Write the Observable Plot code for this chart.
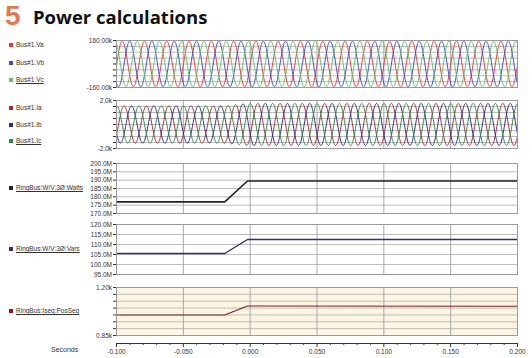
<!DOCTYPE html>
<html><head><meta charset="utf-8">
<script src="https://cdn.jsdelivr.net/npm/d3@7"></script>
<script src="https://cdn.jsdelivr.net/npm/@observablehq/plot@0.6"></script>
<style>
body{margin:0;background:#fff;}
#root{position:relative;width:532px;height:358px;overflow:hidden;font-family:"Liberation Sans",Arial,sans-serif;}
.num{position:absolute;left:5px;top:0px;font-family:"Liberation Sans",sans-serif;font-weight:700;font-size:28px;color:#e57a50;}
.ttl{position:absolute;left:33px;top:4px;font-family:"Open Sans",sans-serif;font-weight:700;font-size:18.5px;line-height:25px;color:#111;white-space:nowrap;}
.leg{position:absolute;left:9px;font-size:6.5px;color:#333;white-space:nowrap;line-height:8px;}
.leg i{display:inline-block;width:4px;height:4px;margin-right:3px;vertical-align:0px;}
.leg.u span{text-decoration:underline;}
.sec{position:absolute;left:51px;top:346px;font-size:7px;color:#333;}
svg{position:absolute;left:0;overflow:visible;}
</style></head>
<body><div id="root">
<div class="num">5</div><div class="ttl">Power calculations</div>
<div class="sec">Seconds</div>
</div>
<script>
// ---------- data ----------
const xDomain = [-0.1, 0.2];
const xMajorTicks = [-0.1, -0.05, 0, 0.05, 0.1, 0.15, 0.2];
const xMinorTicks = [-0.09,-0.08,-0.07,-0.06,-0.04,-0.03,-0.02,-0.01,0.01,0.02,0.03,0.04,0.06,0.07,0.08,0.09,0.11,0.12,0.13,0.14,0.16,0.17,0.18,0.19];

const voltageNames = ["Bus#1.Va", "Bus#1.Vb", "Bus#1.Vc"];
const voltageColors = ["#e03a3a", "#3a4ec4", "#66c066"];
const currentNames = ["Bus#1.Ia", "Bus#1.Ib", "Bus#1.Ic"];
const currentColors = ["#a02c3c", "#2c2c86", "#2f8a3f"];
const phaseShiftDeg = [0, -120, 120];
const frequencyHz = 60;
const voltageFirstPeak = -0.0957;     // time of first Va peak
const voltagePeakK = 155;             // kV
const currentLagDeg = 30;

// step event (times in seconds)
const stepTimes = [-0.1, -0.019, -0.002, 0.2];
const currentPeakK = [1.55, 1.55, 1.75, 1.75];
const wattsM = [177, 177, 189.5, 189.5];
const varsM = [105.5, 105.5, 112.5, 112.5];
const iseqK = [1.0, 1.0, 1.065, 1.063];

const voltTicks = [-160,-120,-80,-40,0,40,80,120,160];
const currTicks = [-2,-1.5,-1,-0.5,0,0.5,1,1.5,2];
const wattTicks = [170,175,180,185,190,195,200];
const varTicks = [95,100,105,110,115,120];
const iseqTicks = [0.85,0.9,0.95,1.0,1.05,1.1,1.15,1.2];

const legendNames = ["RingBus:W/V:3Ø:Watts", "RingBus:W/V:3Ø:Vars", "RingBus:Iseq:PosSeq"];
const legendColors = ["#222222", "#2d2d7a", "#7a1f2e"];

// ---------- build sampled waveforms ----------
const sampleStep = 0.0002;
const times = d3.range(xDomain[0], xDomain[1] + 1e-9, sampleStep);
const currentEnvelope = d3.scaleLinear(stepTimes, currentPeakK).clamp(true);
const voltageRows = [], currentRows = [];
voltageNames.forEach((name, i) => {
  for (const t of times) {
    const ang = 2*Math.PI*frequencyHz*(t - voltageFirstPeak) + phaseShiftDeg[i]*Math.PI/180;
    voltageRows.push({t, v: voltagePeakK*Math.cos(ang), phase: name});
  }
});
currentNames.forEach((name, i) => {
  for (const t of times) {
    const ang = 2*Math.PI*frequencyHz*(t - voltageFirstPeak) + (phaseShiftDeg[i]-currentLagDeg)*Math.PI/180;
    currentRows.push({t, v: currentEnvelope(t)*Math.cos(ang), phase: name});
  }
});
const stepRows = (vals) => stepTimes.map((t, i) => ({t, v: vals[i]}));

// ---------- panels ----------
const root = document.getElementById("root");
function panel({top, bottom, yDomain, ticks, fmt, bg = "#ffffff", marks, xAxis = false}) {
  const mt = 6, mb = xAxis ? 358 - bottom : 6;
  const extra = [];
  if (xAxis) {
    extra.push(
      Plot.ruleY([yDomain[0]], {dy: 8, stroke: "#333", strokeWidth: 1}),
      Plot.axisX(xMinorTicks, {tickFormat: () => "", tickSize: 2, dy: 8, color: "#444", label: null}),
      Plot.axisX(xMajorTicks, {tickFormat: d => d.toFixed(3), tickSize: 4, tickPadding: 2, dy: 8, color: "#333", fontSize: 6.5, label: null})
    );
  }
  const svg = Plot.plot({
    width: 532, height: mt + (bottom - top) + mb,
    marginLeft: 116, marginRight: 15, marginTop: mt, marginBottom: mb,
    x: {domain: xDomain, axis: null},
    y: {domain: yDomain, axis: null},
    style: {background: "transparent", fontFamily: "Liberation Sans, Arial, sans-serif", fontSize: "6.5px", overflow: "visible"},
    marks: [
      Plot.frame({fill: bg, stroke: null}),
      Plot.gridY(ticks, {stroke: "#bdbdbd", strokeOpacity: 1}),
      Plot.gridX(xMajorTicks.slice(1, -1), {stroke: "#a8a8a8", strokeOpacity: 1}),
      Plot.axisY(ticks, {tickFormat: fmt, tickSize: 3, tickPadding: 1.5, color: "#333", fontSize: 6.5, label: null}),
      ...marks,
      Plot.frame({stroke: "#9a9a9a"}),
      ...extra
    ]
  });
  svg.style.top = (top - mt) + "px";
  root.appendChild(svg);
}

panel({top: 40, bottom: 87, yDomain: [-160, 160], ticks: voltTicks,
  fmt: d => Math.abs(d) === 160 ? d.toFixed(2) + "k" : "",
  marks: [Plot.line(voltageRows, {x: "t", y: "v", z: "phase", stroke: d => voltageColors[voltageNames.indexOf(d.phase)], strokeWidth: 1})]});

panel({top: 100, bottom: 148, yDomain: [-2, 2], ticks: currTicks,
  fmt: d => Math.abs(d) === 2 ? d.toFixed(1) + "k" : "",
  marks: [Plot.line(currentRows, {x: "t", y: "v", z: "phase", stroke: d => currentColors[currentNames.indexOf(d.phase)], strokeWidth: 1})]});

panel({top: 163, bottom: 213, yDomain: [170, 200], ticks: wattTicks,
  fmt: d => d.toFixed(1) + "M",
  marks: [Plot.line(stepRows(wattsM), {x: "t", y: "v", stroke: legendColors[0], strokeWidth: 1.6})]});

panel({top: 224, bottom: 274, yDomain: [95, 120], ticks: varTicks,
  fmt: d => d.toFixed(1) + "M",
  marks: [Plot.line(stepRows(varsM), {x: "t", y: "v", stroke: legendColors[1], strokeWidth: 1.4})]});

panel({top: 287, bottom: 335, yDomain: [0.85, 1.2], ticks: iseqTicks, bg: "#fcf5e2", xAxis: true,
  fmt: d => (Math.abs(d - 1.2) < 1e-9 || Math.abs(d - 0.85) < 1e-9) ? d.toFixed(2) + "k" : "",
  marks: [Plot.line(stepRows(iseqK), {x: "t", y: "v", stroke: legendColors[2], strokeWidth: 1.1})]});

// ---------- legends ----------
function legend(name, color, y, underline) {
  const d = document.createElement("div");
  d.className = "leg" + (underline ? " u" : "");
  d.style.top = (y - 4) + "px";
  d.innerHTML = `<i style="background:${color}"></i><span></span>`;
  d.querySelector("span").textContent = name;
  root.appendChild(d);
}
const voltLegendY = [45, 63, 80];
const currLegendY = [108, 125, 141];
voltageNames.forEach((n, i) => legend(n, voltageColors[i], voltLegendY[i], i === 2));
currentNames.forEach((n, i) => legend(n, currentColors[i], currLegendY[i], i === 2));
const lineLegendY = [188, 249, 311];
legendNames.forEach((n, i) => legend(n, legendColors[i], lineLegendY[i], true));
</script>
</body></html>
